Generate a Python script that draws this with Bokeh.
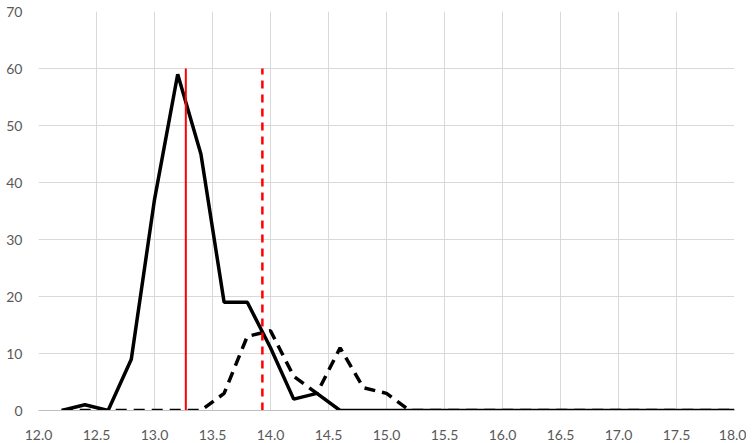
from bokeh.plotting import figure
from bokeh.models import Range1d, FixedTicker, CustomJSTickFormatter
from bokeh.embed import file_html
from bokeh.resources import INLINE

x_vals = [12.2, 12.4, 12.6, 12.8, 13.0, 13.2, 13.4, 13.6, 13.8, 14.0, 14.2, 14.4, 14.6, 14.8,
          15.0, 15.2, 15.4, 15.6, 15.8, 16.0, 16.2, 16.4, 16.6, 16.8, 17.0, 17.2, 17.4, 17.6,
          17.8, 18.0]
solid_vals = [0, 1, 0, 9, 37, 59, 45, 19, 19, 11, 2, 3, 0, 0,
              0, 0, 0, 0, 0, 0, 0, 0, 0, 0, 0, 0, 0, 0, 0, 0]
dashed_vals = [0, 0, 0, 0, 0, 0, 0, 3, 13, 14, 6, 3, 11, 4,
               3, 0, 0, 0, 0, 0, 0, 0, 0, 0, 0, 0, 0, 0, 0, 0]
mean_solid = 13.27
mean_dashed = 13.93
vline_top = 60
x_ticks = [12.0, 12.5, 13.0, 13.5, 14.0, 14.5, 15.0, 15.5, 16.0, 16.5, 17.0, 17.5, 18.0]
y_ticks = [0, 10, 20, 30, 40, 50, 60, 70]

p = figure(width=746, height=442, output_backend="svg", toolbar_location=None,
           x_range=Range1d(12.0, 18.0), y_range=Range1d(0, 70),
           min_border_left=38, min_border_right=12, min_border_top=11, min_border_bottom=28)
p.outline_line_color = None

grid_col = "#d9d9d9"
p.xgrid.ticker = FixedTicker(ticks=x_ticks)
p.ygrid.ticker = FixedTicker(ticks=y_ticks)
p.xgrid.grid_line_color = grid_col
p.ygrid.grid_line_color = grid_col
p.xgrid.grid_line_width = 1
p.ygrid.grid_line_width = 1

for ax in (p.xaxis[0], p.yaxis[0]):
    ax.major_tick_line_color = None
    ax.minor_tick_line_color = None
    ax.major_label_text_color = "#595959"
    ax.major_label_text_font = "Lato"
    ax.major_label_text_font_size = "14px"

p.xaxis.ticker = FixedTicker(ticks=x_ticks)
p.xaxis.formatter = CustomJSTickFormatter(code="return tick.toFixed(1);")
p.xaxis.axis_line_color = "#bfbfbf"
p.xaxis.major_label_standoff = 13
p.yaxis.ticker = FixedTicker(ticks=y_ticks)
p.yaxis.axis_line_color = None
p.yaxis.major_label_standoff = 10

p.line(x_vals, dashed_vals, line_color="black", line_width=3.5, line_dash="11 7")
p.line(x_vals, solid_vals, line_color="black", line_width=3.5)

p.segment(x0=[mean_solid], y0=[0], x1=[mean_solid], y1=[vline_top],
          line_color="red", line_width=2)
p.segment(x0=[mean_dashed], y0=[0], x1=[mean_dashed], y1=[vline_top],
          line_color="red", line_width=2.5, line_dash="8 6")

open("out.html", "w").write(file_html(p, INLINE))
